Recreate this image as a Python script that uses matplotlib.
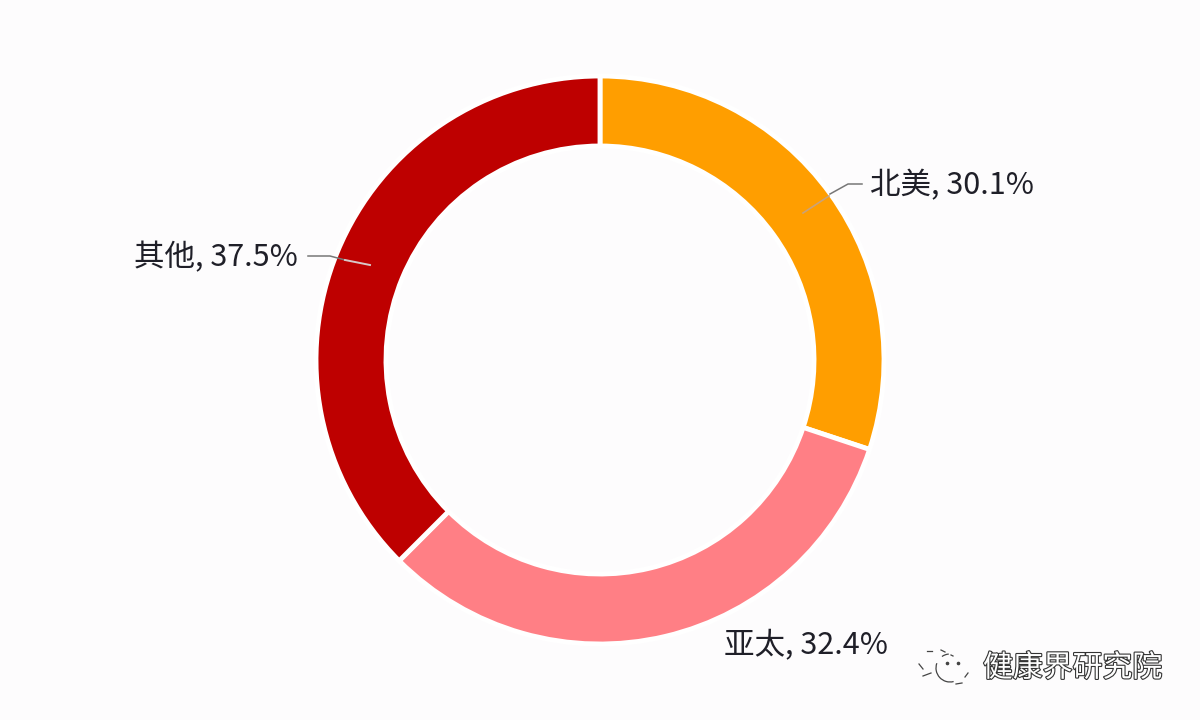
"""Donut share chart by region"""
import matplotlib
matplotlib.use('Agg')
import matplotlib.pyplot as plt
import matplotlib.patheffects as pe
from matplotlib.patches import Arc

plt.rcParams['font.family'] = ['Noto Sans CJK SC', 'DejaVu Sans']

regions = ['北美', '亚太', '其他']
shares = [30.1, 32.4, 37.5]
colors = ['#FF9E00', '#FF7F85', '#BE0000']

BG = '#FDFCFD'
TEXT = '#1F1F28'
H = 720

fig = plt.figure(figsize=(12, 7.2), dpi=100, facecolor=BG)
ax = fig.add_axes([0, 0, 1, 1])
ax.set_xlim(0, 1200)
ax.set_ylim(0, H)
ax.axis('off')

# ring
ax.pie(shares, colors=colors, startangle=90, counterclock=False,
       center=(600, H - 360), radius=284, frame=True,
       wedgeprops=dict(width=70, edgecolor='white', linewidth=3.5))
ax.set_xlim(0, 1200)
ax.set_ylim(0, H)
ax.set_aspect('auto')
ax.axis('off')

# labels, positions in pixels from the top left
label_pos = [(870, 186), (724, 645), (134, 258)]
for name, val, (x, y) in zip(regions, shares, label_pos):
    ax.text(x, H - y, f'{name}, {val}%', fontsize=22, color=TEXT,
            ha='left', va='center')

# leader lines
ax.plot([803, 829], [H - 213, H - 196], color='#C9A27A', lw=1.2)
ax.plot([830, 848, 862], [H - 194, H - 184, H - 184], color='#777777', lw=1.1)
ax.plot([308, 330, 345], [H - 256, H - 256, H - 260], color='#777777', lw=1.1)
ax.plot([345, 370], [H - 260, H - 265], color='#D8C8C8', lw=1.4)

# watermark
ax.text(983, H - 668, '健康界研究院', fontsize=21.5, color='white', ha='left', va='center',
        path_effects=[pe.withStroke(linewidth=1.6, foreground='#333333')])
ax.add_patch(Arc((950, H - 668), 28, 28, theta1=160, theta2=285, color='#444444', lw=0.9))
ax.add_patch(Arc((950, H - 668), 28, 28, theta1=95, theta2=125, color='#444444', lw=0.9))
ax.plot([947, 958], [H - 663, H - 663], ls='none', marker='o', ms=1.6, color='#444444')
for xs, ys in [([927, 932], [651, 651]), ([941, 945], [650, 652]), ([951, 953], [655, 656]),
               ([919, 923], [664, 669]), ([923, 931], [676, 673]), ([965, 968], [677, 673]),
               ([956, 962], [684, 683])]:
    ax.plot(xs, [H - y for y in ys], color='#444444', lw=0.9)

fig.savefig('out.png', dpi=100, facecolor=BG)
plt.close()
